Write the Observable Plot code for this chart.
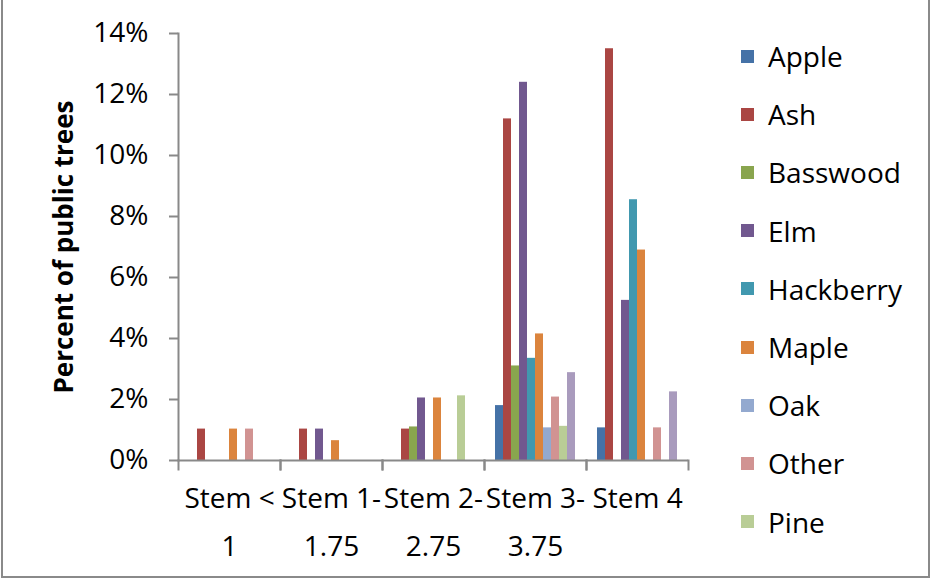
<!DOCTYPE html>
<html><head><meta charset="utf-8">
<script src="https://cdn.jsdelivr.net/npm/d3@7"></script>
<script src="https://cdn.jsdelivr.net/npm/@observablehq/plot@0.6"></script>
<style>
body{margin:0;background:#fff;}
#wrap{position:relative;width:932px;height:581px;overflow:hidden;font-family:"Open Sans",sans-serif;}
#border{position:absolute;left:1px;top:-3px;width:929px;height:581px;border:2px solid #8a8a8a;box-sizing:border-box;pointer-events:none;}
#chart{position:absolute;left:0;top:0;}
#legend{position:absolute;left:741px;top:0;}
.item{position:absolute;left:0;height:30px;display:flex;align-items:center;white-space:nowrap;font-size:28px;color:#000;line-height:30px;}
.sw{width:13px;height:13px;margin-right:14px;flex:none;}
</style></head><body>
<div id="wrap"><div id="chart"></div><div id="legend"></div><div id="border"></div></div>
<script>
const categories = ["Stem < 1", "Stem 1-1.75", "Stem 2-2.75", "Stem 3-3.75", "Stem 4"];
const categoryLabels = ["Stem <\n1", "Stem 1-\n1.75", "Stem 2-\n2.75", "Stem 3-\n3.75", "Stem 4"];
const seriesNames = ["Apple", "Ash", "Basswood", "Elm", "Hackberry", "Maple", "Oak", "Other", "Pine", "Series 10"];
const seriesColors = ["#4572A7", "#AA4643", "#89A54E", "#71588F", "#4198AF", "#DB843D", "#93A9CF", "#D19392", "#B9CD96", "#A99BBD"];
const legendShown = 9;
// percent of public trees, per category
const apple     = [0,    0,    0,    1.8,  1.07];
const ash       = [1.03, 1.03, 1.03, 11.2, 13.5];
const basswood  = [0,    0,    1.1,  3.1,  0];
const elm       = [0,    1.03, 2.05, 12.4, 5.25];
const hackberry = [0,    0,    0,    3.35, 8.55];
const maple     = [1.03, 0.65, 2.05, 4.15, 6.9];
const oak       = [0,    0,    0,    1.07, 0];
const other     = [1.03, 0,    0,    2.08, 1.07];
const pine      = [0,    0,    2.12, 1.12, 0];
const series10  = [0,    0,    0,    2.88, 2.25];
const seriesValues = [apple, ash, basswood, elm, hackberry, maple, oak, other, pine, series10];
const yTicks = [0, 2, 4, 6, 8, 10, 12, 14];
const yLabel = "Percent of public trees";

const rows = [];
seriesNames.forEach((s, si) => categories.forEach((c, ci) => {
  const v = seriesValues[si][ci];
  if (v > 0) rows.push({category: c, series: s, value: v});
}));

const axisColor = "#898989";
const plotHeight = 581 - 33 - 121;

const chart = Plot.plot({
  width: 932, height: 581,
  marginLeft: 176, marginRight: 243, marginTop: 33, marginBottom: 121,
  style: {fontFamily: "'Open Sans', sans-serif", fontSize: "28px", color: "#000", background: "transparent"},
  fx: {domain: categories, padding: 0, label: null},
  x: {domain: seriesNames, paddingInner: 0, paddingOuter: 0.76, axis: null},
  y: {domain: [0, 14], label: null},
  color: {domain: seriesNames, range: seriesColors},
  marks: [
    Plot.barY(rows, {fx: "category", x: "series", y: "value", fill: "series", inset: 0}),
    Plot.ruleY([0], {stroke: axisColor, strokeWidth: 2}),
    Plot.frame({anchor: "left", facetAnchor: "left", stroke: axisColor, strokeWidth: 2}),
    Plot.frame({anchor: "left", insetTop: plotHeight, insetBottom: -9, stroke: axisColor, strokeWidth: 2}),
    Plot.frame({anchor: "right", insetTop: plotHeight, insetBottom: -9, stroke: axisColor, strokeWidth: 2}),
    Plot.axisY({ticks: yTicks, tickFormat: d => d + "%", tickSize: 9, tickPadding: 21, stroke: axisColor, strokeWidth: 2, fill: "#000", label: null}),
    Plot.text([yLabel], {fx: [categories[0]], frameAnchor: "left", textAnchor: "middle", rotate: -90, dx: -114, fontWeight: "bold", fontSize: 26, fill: "#000"}),
    Plot.axisFx({anchor: "bottom", tickSize: 0, tickPadding: 14, tickFormat: d => categoryLabels[categories.indexOf(d)], lineHeight: 1.71, label: null, fill: "#000"})
  ]
});
document.getElementById("chart").appendChild(chart);

const legend = document.getElementById("legend");
seriesNames.slice(0, legendShown).forEach((s, i) => {
  const it = document.createElement("div");
  it.className = "item";
  it.style.top = (56 + i * 58.2 - 15) + "px";
  const sw = document.createElement("span");
  sw.className = "sw";
  sw.style.background = seriesColors[i];
  const tx = document.createElement("span");
  tx.textContent = s;
  it.appendChild(sw); it.appendChild(tx);
  legend.appendChild(it);
});
</script>
</body></html>
